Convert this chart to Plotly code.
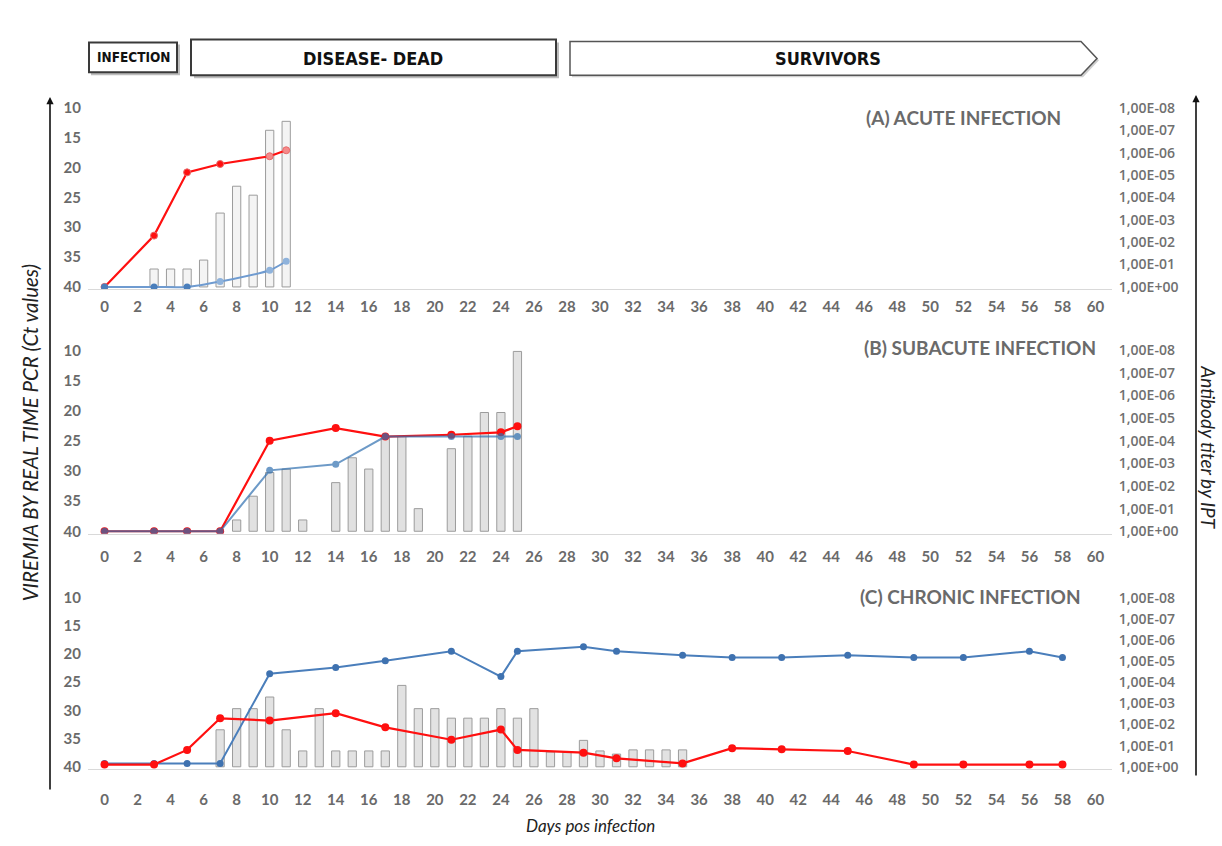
import plotly.graph_objects as go

# ---------------- data ----------------
# (A) acute infection
a_days = [0, 3, 5, 7, 10, 11]
a_red_ct = [40, 31.4, 20.8, 19.4, 18.1, 17.1]
a_blue_ct = [40, 40, 40, 39.1, 37.2, 35.7]
a_bar_days = [3, 4, 5, 6, 7, 8, 9, 10, 11]
a_bar_titer = [0.8, 0.8, 0.8, 1.2, 3.3, 4.5, 4.1, 7.0, 7.4]

# (B) subacute infection
b_days = [0, 3, 5, 7, 10, 14, 17, 21, 24, 25]
b_red_ct = [40, 40, 40, 40, 25.0, 22.9, 24.3, 24.0, 23.6, 22.6]
b_blue_ct = [40, 40, 40, 40, 29.9, 28.9, 24.3, 24.3, 24.3, 24.3]
b_bar_days = [8, 9, 10, 11, 12, 14, 15, 16, 17, 18, 19, 21, 22, 23, 24, 25]
b_bar_titer = [0.5, 1.55, 2.6, 2.75, 0.5, 2.15, 3.25, 2.75, 4.2, 4.2, 1.0,
               3.65, 4.2, 5.25, 5.25, 7.95]

# (C) chronic infection
c_days = [0, 3, 5, 7, 10, 14, 17, 21, 24, 25, 29, 31, 35, 38, 41, 45, 49, 52, 56, 58]
c_red_ct = [39.6, 39.6, 37.0, 31.4, 31.8, 30.5, 33.0, 35.2, 33.4, 37.0,
            37.5, 38.5, 39.4, 36.7, 36.9, 37.2, 39.6, 39.6, 39.6, 39.6]
c_blue_ct = [39.4, 39.4, 39.4, 39.4, 23.5, 22.4, 21.2, 19.5, 24.0, 19.5,
             18.7, 19.5, 20.2, 20.6, 20.6, 20.2, 20.6, 20.6, 19.5, 20.6]
c_bar_days = [7, 8, 9, 10, 11, 12, 13, 14, 15, 16, 17, 18, 19, 20, 21, 22, 23,
              24, 25, 26, 27, 28, 29, 30, 31, 32, 33, 34, 35]
c_bar_titer = [1.75, 2.75, 2.75, 3.3, 1.75, 0.75, 2.75, 0.75, 0.75, 0.75, 0.75,
               3.85, 2.75, 2.75, 2.3, 2.3, 2.3, 2.75, 2.3, 2.75, 0.7, 0.7, 1.25,
               0.75, 0.6, 0.8, 0.8, 0.8, 0.8]

x_ticks = list(range(0, 61, 2))
ct_ticks = [10, 15, 20, 25, 30, 35, 40]
titer_ticks = list(range(0, 9))
titer_labels = ["1,00E+00", "1,00E-01", "1,00E-02", "1,00E-03", "1,00E-04",
                "1,00E-05", "1,00E-06", "1,00E-07", "1,00E-08"]
panel_titles = ["(A) ACUTE INFECTION", "(B) SUBACUTE INFECTION", "(C) CHRONIC INFECTION"]

# ---------------- layout helpers ----------------
W, H = 1222, 846


def px(p):
    return p / W


def py(p):
    return 1 - p / H


CT_RANGE = [40.4, 8.5]                       # reversed: 10 at top, 40 at bottom
TITER_RANGE = [(40 - CT_RANGE[0]) / 3.75, (40 - CT_RANGE[1]) / 3.75]

X_DOMAIN = [px(88), px(1112)]
# (top px, bottom px) for each panel
panel_px = [(98, 290.4), (342.9, 537.4), (593.5, 775.3)]
x_ticklen = [4, 9, 17]

RED = "#ff1010"
BLUE = "#4a7ebb"
TICK_FONT = dict(family="Lato, Open Sans, sans-serif", size=15, color="#6a6a6a", weight="bold")
RIGHT_FONT = dict(family="Open Sans, Lato, sans-serif", size=14, color="#707070", weight=600)

fig = go.Figure()

panels = [
    (a_days, a_red_ct, a_days, a_blue_ct, a_bar_days, a_bar_titer),
    (b_days, b_red_ct, b_days, b_blue_ct, b_bar_days, b_bar_titer),
    (c_days, c_red_ct, c_days, c_blue_ct, c_bar_days, c_bar_titer),
]

for i, (rd, rv, bd, bv, bard, barv) in enumerate(panels):
    xa = "x" if i == 0 else f"x{i + 1}"
    ya_titer = "y" if i == 0 else f"y{2 * i + 1}"
    ya_ct = f"y{2 * i + 2}"

    bar_fill = "#f4f4f4" if i == 0 else "#e2e2e2"
    fig.add_trace(go.Bar(
        x=bard, y=barv, xaxis=xa, yaxis=ya_titer, width=0.5,
        marker=dict(color=bar_fill, line=dict(color="#9c9c9c", width=1)),
        showlegend=False, hoverinfo="skip",
    ))

    if i == 0:
        red_marker = dict(size=7, color=[RED, RED, RED, RED, "#f58a8a", "#f58a8a"],
                          line=dict(color="#e86a6a", width=1))
        blue_marker = dict(size=7, color=[BLUE, BLUE, BLUE, "#8fb3dc", "#8fb3dc", "#8fb3dc"])
        blue_line = dict(color="#6f9bd0", width=2, shape="spline", smoothing=0.8)
        blue_opacity = 1.0
    elif i == 1:
        red_marker = dict(size=8, color=RED)
        blue_marker = dict(size=7, color="#2f6fb0")
        blue_line = dict(color="#2f6fb0", width=2)
        blue_opacity = 0.7
    else:
        red_marker = dict(size=8, color=RED)
        blue_marker = dict(size=7, color="#3f72b0")
        blue_line = dict(color="#4a7ebb", width=2)
        blue_opacity = 1.0

    red_trace = go.Scatter(
        x=rd, y=rv, xaxis=xa, yaxis=ya_ct, mode="lines+markers",
        line=dict(color=RED, width=2.2), marker=red_marker,
        showlegend=False, hoverinfo="skip")
    blue_trace = go.Scatter(
        x=bd, y=bv, xaxis=xa, yaxis=ya_ct, mode="lines+markers",
        line=blue_line, marker=blue_marker, opacity=blue_opacity,
        showlegend=False, hoverinfo="skip")
    if i == 2:
        fig.add_trace(blue_trace)
        fig.add_trace(red_trace)
    else:
        fig.add_trace(red_trace)
        fig.add_trace(blue_trace)

    top, bot = panel_px[i]
    dom = [py(bot), py(top)]
    xkey = "xaxis" if i == 0 else f"xaxis{i + 1}"
    ytkey = "yaxis" if i == 0 else f"yaxis{2 * i + 1}"
    yckey = f"yaxis{2 * i + 2}"

    fig.update_layout(**{
        xkey: dict(domain=X_DOMAIN, range=[-1, 61], anchor=ya_titer,
                   tickvals=x_ticks, showgrid=False, zeroline=False,
                   showline=True, linecolor="#d9d9d9", linewidth=1,
                   ticks="outside", ticklen=x_ticklen[i],
                   tickcolor="rgba(0,0,0,0)", tickfont=TICK_FONT),
        ytkey: dict(domain=dom, range=TITER_RANGE, anchor=xa, side="right",
                    tickvals=titer_ticks, ticktext=titer_labels,
                    showgrid=False, zeroline=False, showline=False,
                    ticks="outside", ticklen=3, tickcolor="rgba(0,0,0,0)",
                    tickfont=RIGHT_FONT),
        yckey: dict(range=CT_RANGE, overlaying=ya_titer, anchor=xa, side="left",
                    tickvals=ct_ticks, showgrid=False, zeroline=False,
                    showline=False, ticks="outside", ticklen=3,
                    tickcolor="rgba(0,0,0,0)", tickfont=TICK_FONT),
    })

# ---------------- annotations ----------------
annotations = []


def label(text, x, y, size, color="#111111", angle=0, xanchor="center",
          family="Lato, Open Sans, sans-serif", **fontkw):
    return dict(text=text, x=px(x), y=py(y), xref="paper", yref="paper",
                xanchor=xanchor, yanchor="middle", textangle=angle,
                showarrow=False,
                font=dict(family=family, size=size, color=color, **fontkw))


title_pos = [(1063, 117), (1098, 349), (1083, 601)]
for t, (xr, yc) in zip(panel_titles, title_pos):
    annotations.append(label(t, xr, yc, 19, color="#6a6a6a", xanchor="right", weight="bold"))

annotations.append(label("VIREMIA BY REAL TIME PCR (Ct values)", 30, 436, 20.5,
                         color="#222222", angle=-90, style="italic"))
annotations.append(label("Antibody titer by IPT", 1209, 450, 19,
                         color="#222222", angle=90, style="italic"))
annotations.append(label("Days pos infection", 590, 832, 17,
                         color="#222222", style="italic"))

# vertical axis arrows
annotations.append(dict(
    text="", x=px(50), y=py(96), xref="paper", yref="paper",
    showarrow=True, ax=0, ay=694, arrowhead=2, arrowsize=0.9,
    arrowwidth=1.6, arrowcolor="#111111", standoff=0))
annotations.append(dict(
    text="", x=px(1196), y=py(94), xref="paper", yref="paper",
    showarrow=True, ax=0, ay=682, arrowhead=2, arrowsize=0.9,
    arrowwidth=1.6, arrowcolor="#111111", standoff=0))

# stage banner
BANNER_FONT = "Liberation Sans Narrow, DejaVu Sans Condensed, Arial Narrow, sans-serif"
annotations.append(label("<b>INFECTION</b>", 133, 56, 13.5, family=BANNER_FONT))
annotations.append(label("<b>DISEASE- DEAD</b>", 373, 57, 18, family=BANNER_FONT))
annotations.append(label("<b>SURVIVORS</b>", 828, 57, 18, family=BANNER_FONT))

shapes = []


def rect(x0, y0, x1, y1, **kw):
    return dict(type="rect", xref="paper", yref="paper",
                x0=px(x0), x1=px(x1), y0=py(y1), y1=py(y0), **kw)


# drop shadows
shapes.append(rect(91, 43, 180, 74, fillcolor="#bdbdbd", line=dict(width=0), layer="below"))
shapes.append(rect(194, 41, 559, 77, fillcolor="#bdbdbd", line=dict(width=0), layer="below"))
# boxes
shapes.append(rect(89, 41, 177, 71, fillcolor="white", line=dict(color="#3a3a3a", width=2)))
shapes.append(rect(191, 38, 556, 74, fillcolor="white", line=dict(color="#3a3a3a", width=2)))


def pathxy(points):
    return "M " + " L ".join(f"{px(a):.5f},{py(b):.5f}" for a, b in points) + " Z"


surv = [(570, 40), (1081, 40), (1097, 57), (1081, 74), (570, 74)]
surv_shadow = [(a + 2, b + 2) for a, b in surv]
shapes.append(dict(type="path", xref="paper", yref="paper", path=pathxy(surv_shadow),
                   fillcolor="#cfcfcf", line=dict(width=0), layer="below"))
shapes.append(dict(type="path", xref="paper", yref="paper", path=pathxy(surv),
                   fillcolor="white", line=dict(color="#555555", width=1.5)))

fig.update_layout(
    width=W, height=H, margin=dict(l=0, r=0, t=0, b=0),
    paper_bgcolor="white", plot_bgcolor="rgba(0,0,0,0)",
    barmode="overlay", showlegend=False,
    annotations=annotations, shapes=shapes,
    font=dict(family="Lato, Open Sans, sans-serif"),
)

fig.write_html("out.html")
